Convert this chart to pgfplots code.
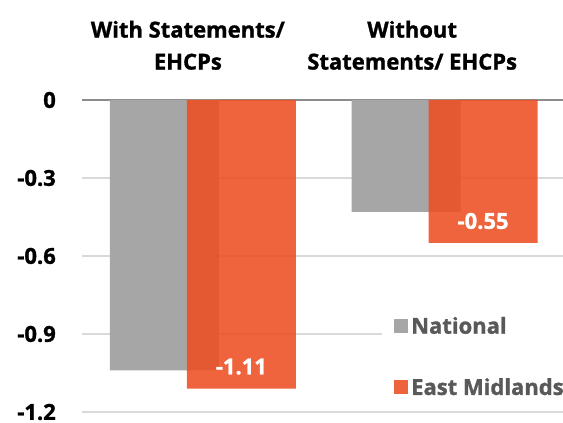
\documentclass[border=0pt]{standalone}
\usepackage{pgfplots}
\pgfplotsset{compat=1.18}
\usepackage{fontspec}
\setmainfont{Open Sans}[BoldFeatures={FakeBold=1.2}]
\definecolor{natgray}{RGB}{166,166,166}
\definecolor{emorange}{RGB}{237,78,34}
\definecolor{gridgray}{RGB}{217,217,217}
\definecolor{zerogray}{RGB}{140,140,140}
\definecolor{legtext}{RGB}{89,89,89}
\newcommand{\bigfont}{\fontsize{22}{32}\selectfont\bfseries}
\begin{document}
\begin{tikzpicture}
\useasboundingbox (-82pt,-11pt) rectangle (481pt,412pt);
\begin{axis}[
  at={(0pt,0pt)}, anchor=south west,
  scale only axis, width=481pt, height=312pt,
  xmin=-0.5, xmax=1.49, ymin=-1.2, ymax=0,
  axis line style={draw=none},
  ybar, bar width=109pt,
  xtick={-0.062,0.866},
  xticklabels={{With Statements/\\EHCPs},{Without\\Statements/ EHCPs}},
  xticklabel pos=top,
  xticklabel style={align=center, font=\bigfont, text=black, anchor=south, inner sep=0pt, yshift=30pt},
  ytick={-1.2,-0.9,-0.6,-0.3,0},
  yticklabels={-1.2,-0.9,-0.6,-0.3,0},
  yticklabel style={font=\bigfont, text=black, anchor=east, inner sep=0pt, xshift=-26pt},
  major tick length=0pt,
  ymajorgrids, grid style={draw=gridgray, line width=2pt},
  extra y ticks={0}, extra y tick labels={},
  extra y tick style={grid style={draw=zerogray, line width=2pt}},
  legend style={at={(0.6237,0.35)}, anchor=north west, fill=white, draw=none,
    inner xsep=12pt, inner ysep=12pt, font=\bigfont, text=legtext,
    row sep=39pt, nodes={inner xsep=3pt}},
  legend cell align=left,
  legend image code/.code={\fill[#1] (0pt,-7pt) rectangle (14pt,7pt);},
]
\addplot[fill=natgray, draw=none, bar shift=-38.5pt] coordinates {(0,-1.04) (1,-0.43)};
\addlegendentry{National}
\addplot[fill=emorange, draw=none, fill opacity=0.88, bar shift=38.5pt,
  nodes near coords, point meta=explicit symbolic,
  nodes near coords style={text=white, font=\bigfont, anchor=center, yshift=22pt, text opacity=1}]
  coordinates {(0,-1.11) [-1.11] (1,-0.55) [-0.55]};
\addlegendentry{East Midlands}
\end{axis}
\end{tikzpicture}
\end{document}
